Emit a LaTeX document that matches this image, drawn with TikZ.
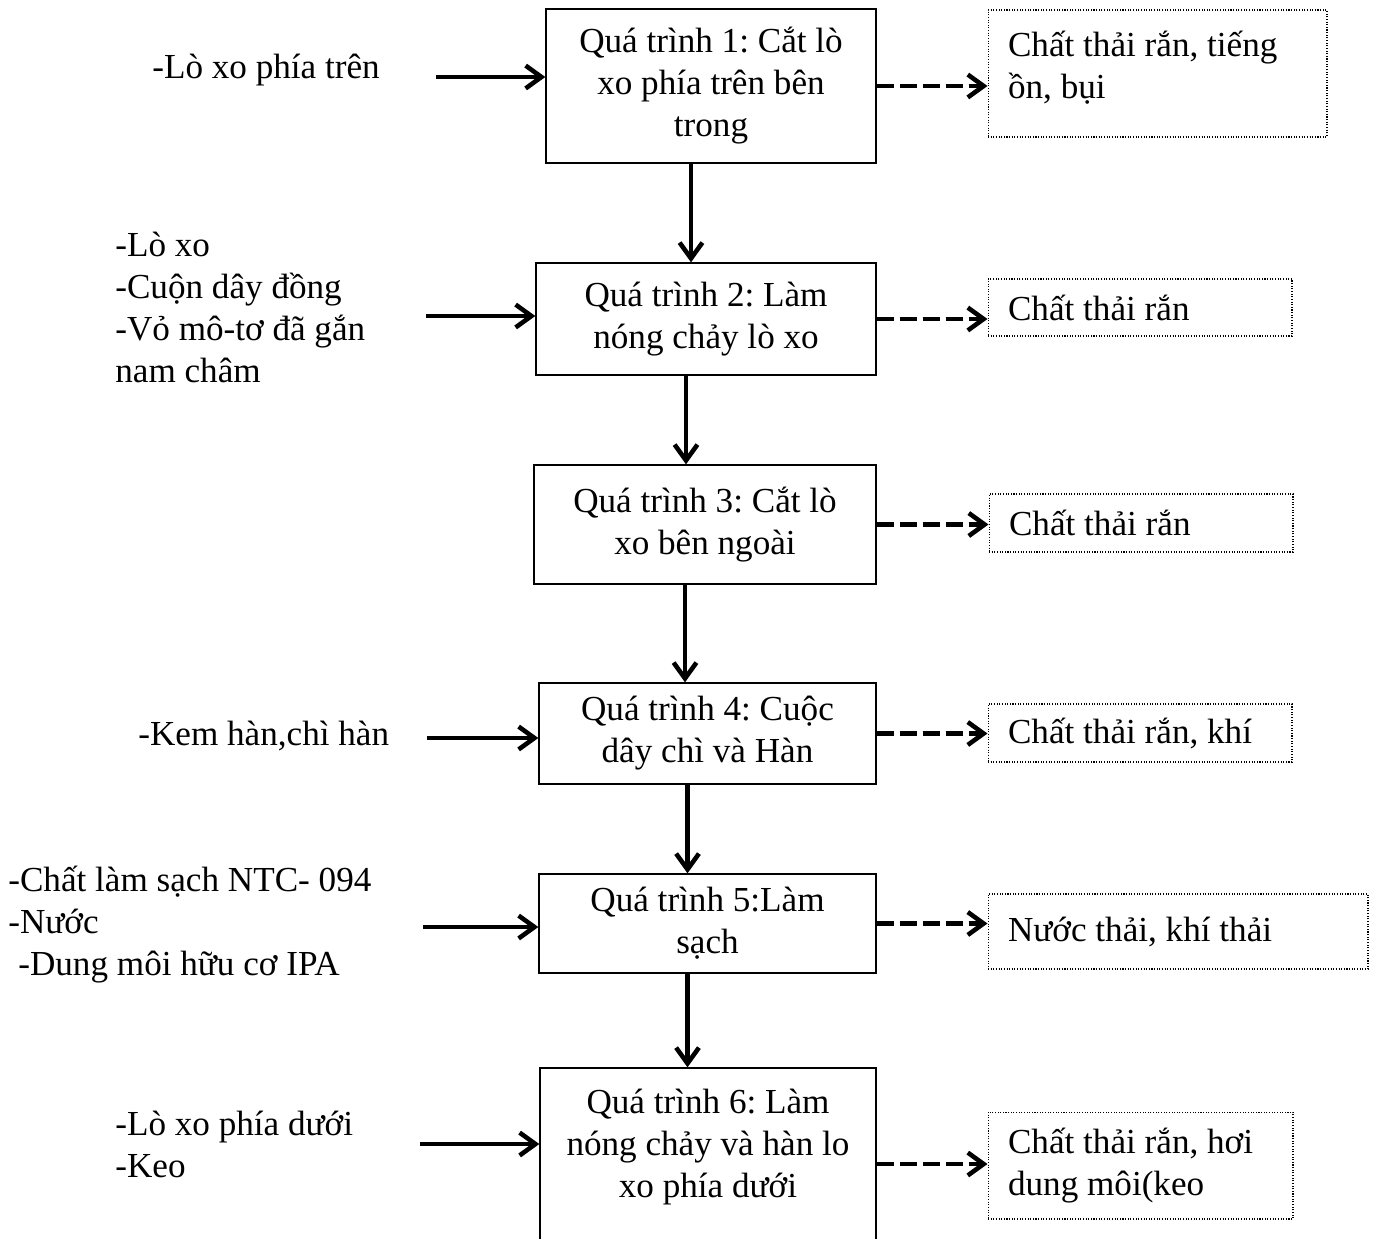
\documentclass[tikz,border=0pt]{standalone}
\usepackage{fontspec}
\setmainfont{Liberation Serif}
\usetikzlibrary{arrows.meta, positioning, calc}

\begin{document}
\frenchspacing
\begin{tikzpicture}[x=0.02cm, y=-0.02cm,
    font=\fontsize{20}{23.9}\selectfont,
    stepbox/.style={draw, line width=0.8pt, align=center, inner sep=0pt},
    waste/.style={draw, dash pattern=on 0.6pt off 0.9pt, line width=0.6pt,
                  align=flush left, inner xsep=0.4cm, inner ysep=0pt, text width=#1},
    feed/.style={anchor=west, align=left, inner sep=0pt},
    arr/.style={-{Straight Barb[length=9pt, width=13pt]}, line width=2.6pt},
    darr/.style={arr, dash pattern=on 0.34cm off 0.12cm}
  ]
    \useasboundingbox (0,0) rectangle (1378,1238);

    % process steps
    \node[stepbox, minimum width=6.6cm, minimum height=3.08cm] (B1) at (711,86)
      {Quá trình 1: Cắt lò\\xo phía trên bên\\trong};
    \node[stepbox, minimum width=6.8cm, minimum height=2.24cm] (B2) at (706,319)
      {Quá trình 2: Làm\\nóng chảy lò xo};
    \node[stepbox, minimum width=6.84cm, minimum height=2.38cm] (B3) at (705,524.5)
      {Quá trình 3: Cắt lò\\xo bên ngoài};
    \node[stepbox, minimum width=6.74cm, minimum height=2.02cm] (B4) at (707.5,733.5)
      {Quá trình 4: Cuộc\\dây chì và Hàn};
    \node[stepbox, minimum width=6.74cm, minimum height=1.98cm] (B5) at (707.5,923.5)
      {Quá trình 5:Làm\\sạch};
    \node[stepbox, minimum width=6.72cm, minimum height=3.84cm] (B6) at (708,1164)
      {Quá trình 6: Làm\\nóng chảy và hàn lo\\xo phía dưới\\~};

    % wastes
    \node[waste=5.98cm, minimum height=2.54cm] (R1) at (1157.5,73.5)
      {Chất thải rắn, tiếng\\ồn, bụi\\[-0.48cm]~};
    \node[waste=5.28cm, minimum height=1.14cm] (R2) at (1140,307.5) {Chất thải rắn};
    \node[waste=5.28cm, minimum height=1.16cm] (R3) at (1141,523) {Chất thải rắn};
    \node[waste=5.28cm, minimum height=1.16cm] (R4) at (1140,733) {Chất thải rắn, khí};
    \node[waste=6.8cm, minimum height=1.5cm] (R5) at (1178,931.5) {Nước thải, khí thải};
    \node[waste=5.3cm, minimum height=2.14cm] (R6) at (1140.5,1165.5)
      {Chất thải rắn, hơi\\dung môi(keo};

    % inputs
    \node[feed] (F1) at (152,70) {-Lò xo phía trên};
    \node[feed] (F2) at (115,307) {-Lò xo\\-Cuộn dây đồng\\-Vỏ mô-tơ đã gắn\\nam châm};
    \node[feed] (F4) at (138,736) {-Kem hàn,chì hàn};
    \node[feed] (F5) at (8,925)
      {-Chất làm sạch NTC- 094\\-Nước\\\hspace*{0.2cm}-Dung môi hữu cơ IPA};
    \node[feed] (F6) at (115,1144) {-Lò xo phía dưới\\-Keo};

    \coordinate (S1) at (436,77);
    \coordinate (S2) at (426,316);
    \coordinate (S4) at (427,738);
    \coordinate (S5) at (423,927);
    \coordinate (S6) at (420,1144);
    \draw[arr] (S1) -- (S1 -| B1.west);
    \draw[arr] (S2) -- (S2 -| B2.west);
    \draw[arr] (S4) -- (S4 -| B4.west);
    \draw[arr] (S5) -- (S5 -| B5.west);
    \draw[arr] (S6) -- (S6 -| B6.west);

    \foreach \a/\b in {B1/B2, B2/B3, B3/B4, B4/B5, B5/B6}
      \draw[arr] ([xshift=-0.4cm]\a.south) -- ([xshift=-0.4cm]\a.south |- \b.north);
    \foreach \a/\b in {B1/R1, B2/R2, B3/R3, B4/R4, B5/R5, B6/R6}
      \draw[darr] (\a.east) -- (\a.east -| \b.west);
  \end{tikzpicture}
\end{document}
